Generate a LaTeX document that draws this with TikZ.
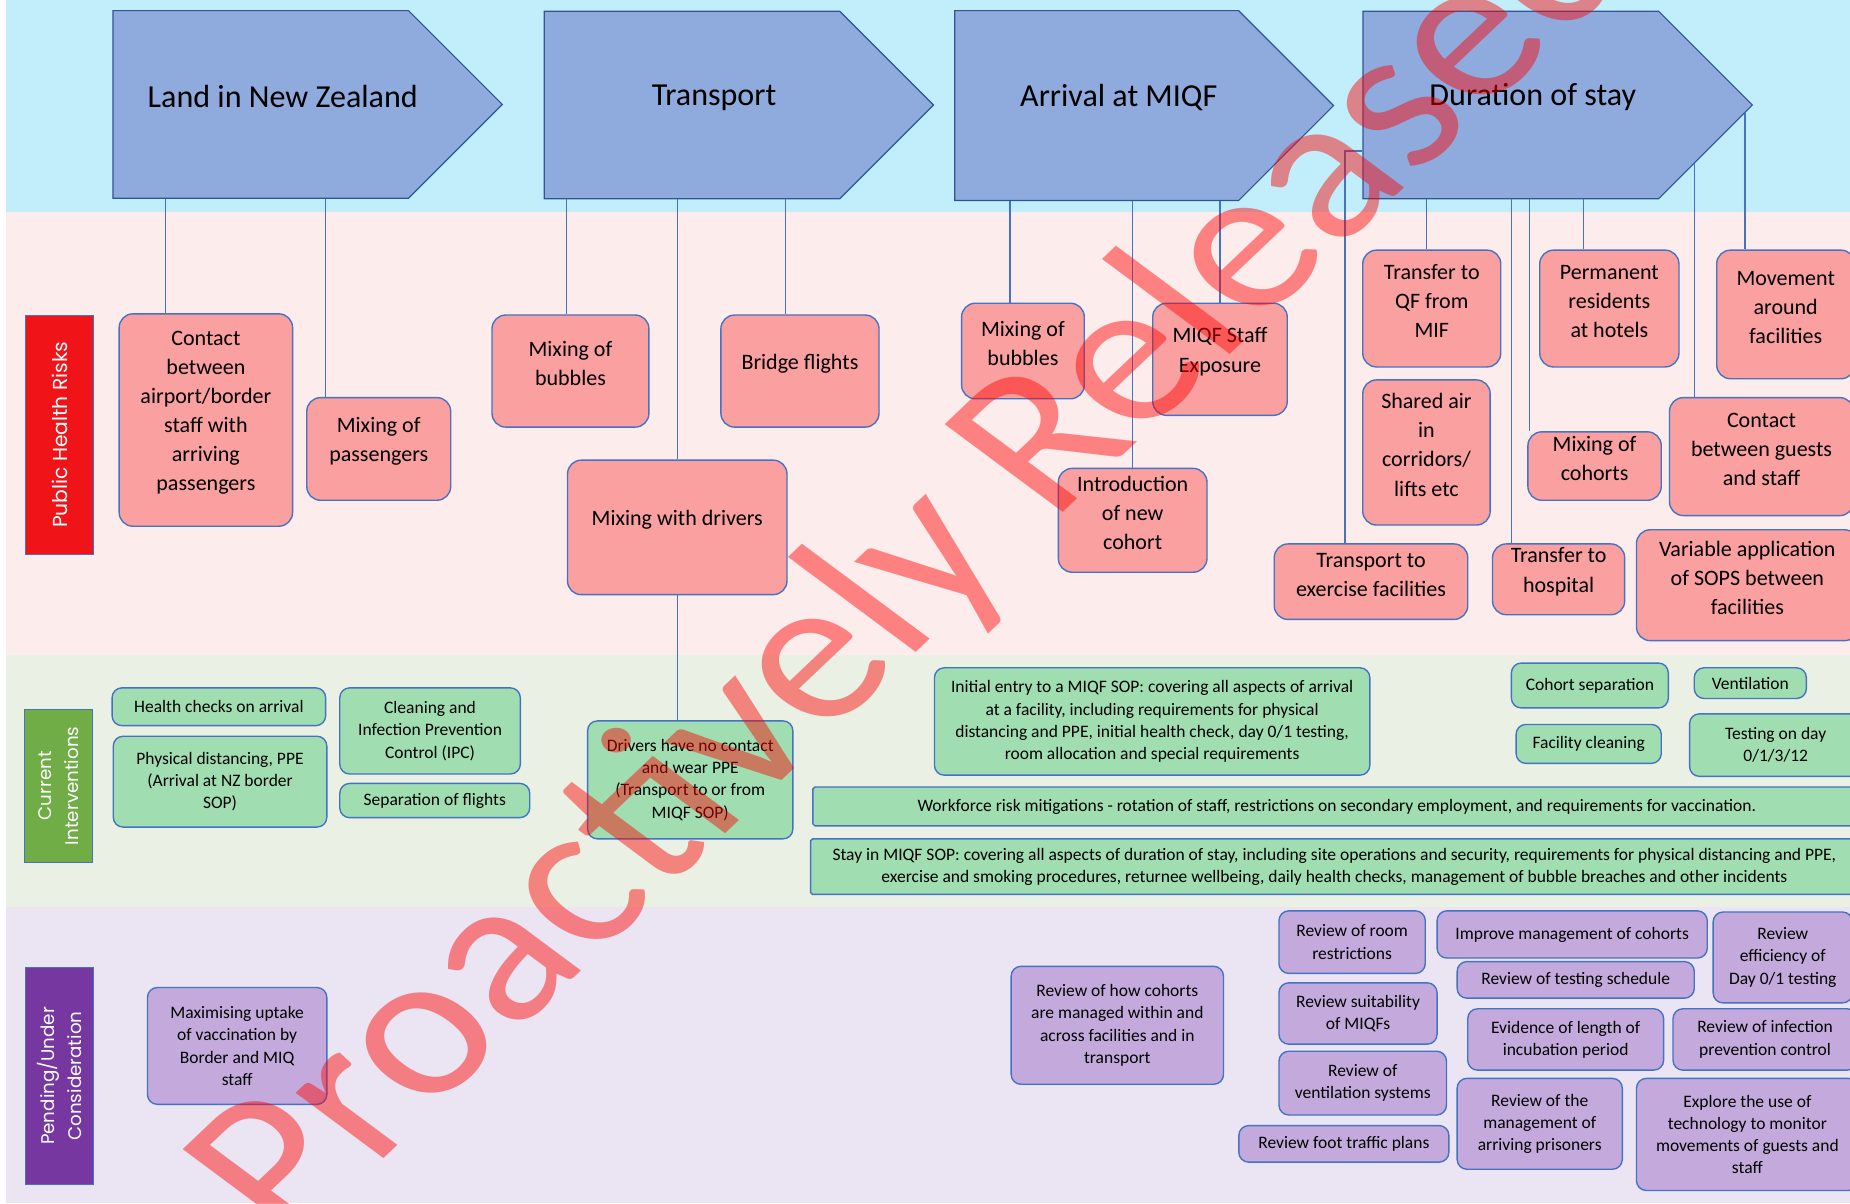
\documentclass[tikz,border=0pt]{standalone}
\usepackage{fontspec}
\setmainfont{Carlito}
\newfontfamily\sidefont{Poppins}
\usetikzlibrary{shapes.symbols, fit}
\definecolor{bandB}{RGB}{193,238,250}
\definecolor{bandR}{RGB}{252,236,236}
\definecolor{bandG}{RGB}{234,241,228}
\definecolor{bandP}{RGB}{235,228,242}
\definecolor{cHead}{RGB}{143,170,220}
\definecolor{cHeadL}{RGB}{47,85,151}
\definecolor{cLine}{RGB}{68,114,196}
\definecolor{cRisk}{RGB}{250,160,160}
\definecolor{cInt}{RGB}{160,222,178}
\definecolor{cPend}{RGB}{196,170,220}
\definecolor{cRed}{RGB}{240,20,25}
\definecolor{cGreen}{RGB}{112,173,71}
\definecolor{cPurple}{RGB}{118,56,160}

\begin{document}
\begin{tikzpicture}[x=0.6pt, y=-0.6pt,
    head/.style={shape=signal, signal to=east, draw=cHeadL, fill=cHead, line width=0.6pt,
        minimum width=198pt, minimum height=95.4pt, inner sep=0pt},
    hlabel/.style={font=\fontsize{16.3}{19}\selectfont, xshift=11.2pt, yshift=3.9pt},
    risk/.style={draw=cLine, fill=cRisk, line width=0.7pt, rounded corners=7pt, inner sep=0pt,
        align=center, font=\fontsize{11.2}{14.8}\selectfont},
    interv/.style={draw=cLine, fill=cInt, line width=0.7pt, rounded corners=5pt, inner sep=0pt},
    pend/.style={interv, fill=cPend},
    itext/.style={align=center, inner sep=0pt, font=\fontsize{8.9}{11.3}\selectfont},
    side/.style={rotate=90, text=white, draw=cLine, line width=0.5pt, align=center,
        inner sep=0pt, minimum height=34.2pt, font=\sidefont\fontsize{9.3}{14}\selectfont},
    link/.style={draw=cLine, line width=0.6pt}]

    \useasboundingbox (0,0) rectangle (1568,1020);
    \clip (0,0) rectangle (1568,1020);

    % --- Bands ---
    \fill[bandB] (5,0) rectangle (1568,180);
    \fill[bandR] (5,180) rectangle (1568,555);
    \fill[bandG] (5,555) rectangle (1568,769);
    \fill[bandP] (5,769) rectangle (1568,1020);

    % --- Stages ---
    \node[head, label={[hlabel]center:Land in New Zealand}] (land) at (221,88.5) {};
    \node[head, label={[hlabel]center:Transport}] (trans) at (586.5,89) {};
    \node[head, minimum width=192.6pt, minimum height=96.6pt,
        label={[hlabel]center:Arrival at MIQF}] (arr) at (929.5,89.5) {};
    \node[head, label={[hlabel]center:Duration of stay}] (dur) at (1280.5,89) {};

    % --- Row labels ---
    \node[side, fill=cRed, minimum width=121.8pt, font=\sidefont\fontsize{10.3}{14}\selectfont] (phr) at (50.5,368.5) {Public Health Risks};
    \node[side, fill=cGreen, minimum width=78pt] (cur) at (49.5,666) {Current\\Interventions};
    \node[side, fill=cPurple, minimum width=110.4pt] (pnd) at (50.5,912) {Pending/Under\\Consideration};

    % --- Public health risks ---
    \node[risk, fit={(101,266) (248,446)}] (contact) {Contact\\between\\airport/border\\staff with\\arriving\\passengers};
    \node[risk, fit={(260,337) (382,424)}] (mixpass) {Mixing of\\passengers};
    \node[risk, fit={(417,267) (550,362)}] (bubT) {Mixing of\\bubbles};
    \node[risk, fit={(611,267) (745,362)}] (bridge) {Bridge flights};
    \node[risk, fit={(481,390) (667,504)}] (drivers) {Mixing with drivers};
    \node[risk, fit={(815,257) (919,338)}] (bubA) {Mixing of\\bubbles};
    \node[risk, fit={(977,257) (1091,352)}] (staff) {MIQF Staff\\Exposure};
    \node[risk, fit={(897,397) (1023,485)}] (newcoh) {Introduction\\of new\\cohort};
    \node[risk, fit={(1155,212) (1272,311)}] (qf) {Transfer to\\QF from\\MIF};
    \node[risk, fit={(1155,322) (1263,445)}] (air) {Shared air\\in\\corridors/\\lifts etc};
    \node[risk, fit={(1080,461) (1244,525)}] (exercise) {Transport to\\exercise facilities};
    \node[risk, fit={(1305,212) (1423,311)}] (perm) {Permanent\\residents\\at hotels};
    \node[risk, fit={(1295,366) (1408,424)}] (mixcoh) {Mixing of\\cohorts};
    \node[risk, fit={(1265,461) (1377,521)}] (hospital) {Transfer to\\hospital};
    \node[risk, fit={(1455,212) (1572,321)}] (movement) {Movement\\around\\facilities};
    \node[risk, fit={(1415,337) (1571,437)}] (guests) {Contact\\between guests\\and staff};
    \node[risk, fit={(1387,449) (1575,543)}] (sops) {Variable application\\of SOPS between\\facilities};

    % Connectors from stages
    \draw[link] (land.south -| 140,0) -- (contact.north -| 140,0);
    \draw[link] (land.south -| 276,0) -- (mixpass.north -| 276,0);
    \draw[link] (trans.south -| 480,0) -- (bubT.north -| 480,0);
    \draw[link] (trans.south -| drivers.north) -- (drivers.north);
    \draw[link] (trans.south -| 666,0) -- (bridge.north -| 666,0);
    \draw[link] (arr.south -| 856,0) -- (bubA.north -| 856,0);
    \draw[link] (arr.south -| newcoh.north) -- (newcoh.north);
    \draw[link] (arr.south -| staff.north) -- (staff.north);
    \draw[link] (dur.west |- 0,128) -| (exercise.north -| 1140,0);
    \draw[link] (dur.south -| 1209,0) -- (qf.north -| 1209,0);
    \draw[link] (dur.south -| 1281,0) -- (hospital.north -| 1281,0);
    \draw[link] (dur.south -| 1296,0) -- (mixcoh.north -| 1296,0);
    \draw[link] (dur.south -| 1342,0) -- (perm.north -| 1342,0);
    \coordinate (durA) at (1436,138);
    \coordinate (durB) at (1479,96);
    \draw[link] (durA) -- (guests.north -| durA);
    \draw[link] (durB) -- (movement.north -| durB);

    % --- Current interventions ---
    \node[interv, fit={(95,583) (276,615)}, label={[itext]center:Health checks on arrival}] (health) {};
    \node[interv, fit={(96,624) (277,701)}, label={[itext]center:Physical distancing, PPE\\(Arrival at NZ border\\SOP)}] (distancing) {};
    \node[interv, fit={(288,583) (441,656)}, label={[itext]center:Cleaning and\\Infection Prevention\\Control (IPC)}] (ipc) {};
    \node[interv, fit={(288,664) (449,693)}, label={[itext]center:Separation of flights}] (flights) {};
    \node[interv, fit={(498,611) (672,711)}, label={[itext]center:Drivers have no contact\\and wear PPE\\(Transport to or from\\MIQF SOP)}] (nocontact) {};
    \draw[link] (drivers.south) -- (nocontact.north -| drivers.south);
    \node[interv, fit={(792,566) (1161,657)}, label={[itext]center:Initial entry to a MIQF SOP: covering all aspects of arrival\\at a facility, including requirements for physical\\distancing and PPE, initial health check, day 0/1 testing,\\room allocation and special requirements}] (entry) {};
    \node[interv, fit={(1281,562) (1414,600)}, label={[itext]center:Cohort separation}] (cohsep) {};
    \node[interv, fit={(1436,566) (1531,592)}, label={[itext]center:Ventilation}] (vent) {};
    \node[interv, fit={(1285,614) (1408,647)}, label={[itext]center:Facility cleaning}] (cleaning) {};
    \node[interv, fit={(1432,605) (1578,658)}, label={[itext]center:Testing on day\\0/1/3/12}] (testing) {};
    \node[interv, rounded corners=1pt, fit={(689,667) (1577,700)}, label={[itext]center:Workforce risk mitigations - rotation of staff, restrictions on secondary employment, and requirements for vaccination.}] (workforce) {};
    \node[interv, rounded corners=1pt, fit={(687,711) (1575,758)}, label={[itext]center:Stay in MIQF SOP: covering all aspects of duration of stay, including site operations and security, requirements for physical distancing and PPE,\\exercise and smoking procedures, returnee wellbeing, daily health checks, management of bubble breaches and other incidents}] (stay) {};

    % --- Pending / under consideration ---
    \node[pend, fit={(125,837) (277,936)}, label={[itext]center:Maximising uptake\\of vaccination by\\Border and MIQ\\staff}] (vacc) {};
    \node[pend, fit={(857,819) (1037,919)}, label={[itext]center:Review of how cohorts\\are managed within and\\across facilities and in\\transport}] (howcoh) {};
    \node[pend, fit={(1084,772) (1208,825)}, label={[itext]center:Review of room\\restrictions}] (room) {};
    \node[pend, fit={(1084,833) (1218,885)}, label={[itext]center:Review suitability\\of MIQFs}] (suit) {};
    \node[pend, fit={(1084,891) (1226,945)}, label={[itext]center:Review of\\ventilation systems}] (ventsys) {};
    \node[pend, fit={(1050,954) (1228,985)}, label={[itext]center:Review foot traffic plans}] (foot) {};
    \node[pend, fit={(1218,772) (1447,812)}, label={[itext]center:Improve management of cohorts}] (improve) {};
    \node[pend, fit={(1235,815) (1436,846)}, label={[itext]center:Review of testing schedule}] (sched) {};
    \node[pend, fit={(1452,773) (1570,850)}, label={[itext]center:Review\\efficiency of\\Day 0/1 testing}] (effic) {};
    \node[pend, fit={(1244,855) (1410,907)}, label={[itext]center:Evidence of length of\\incubation period}] (incub) {};
    \node[pend, fit={(1418,855) (1574,907)}, label={[itext]center:Review of infection\\prevention control}] (ipcrev) {};
    \node[pend, fit={(1235,914) (1375,991)}, label={[itext]center:Review of the\\management of\\arriving prisoners}] (prison) {};
    \node[pend, fit={(1387,914) (1575,1009)}, label={[itext]center:Explore the use of\\technology to monitor\\movements of guests and\\staff}] (tech) {};

    % Watermark
    \node[xscale=1.19, rotate=48.5, anchor=base west, text=red, opacity=0.45, inner sep=0pt,
        font=\fontsize{105}{105}\selectfont] (stamp) at (245,1058) {Proactively Released};

\end{tikzpicture}
\end{document}
